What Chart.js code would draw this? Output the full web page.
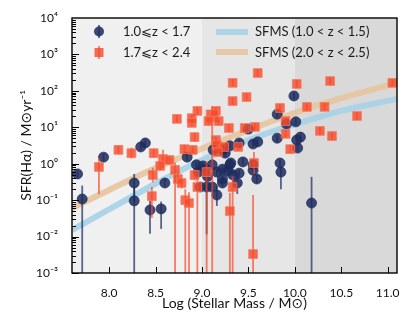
<!DOCTYPE html>
<html>
<head>
<meta charset="utf-8">
<script src="https://cdn.jsdelivr.net/npm/chart.js@4.4.1/dist/chart.umd.min.js"></script>
<style>
html,body{margin:0;padding:0;background:#ffffff;}
#wrap{width:415px;height:332px;position:relative;}
</style>
</head>
<body>
<div id="wrap"><canvas id="c" width="415" height="332"></canvas></div>
<script>
// ---------------- DATA ----------------
// x tick values / labels
const xTickValues = [8.0, 8.5, 9.0, 9.5, 10.0, 10.5, 11.0];
const xTickLabels = ['8.0', '8.5', '9.0', '9.5', '10.0', '10.5', '11.0'];
// y tick values / labels (log axis)
const yTickValues = [1e-3, 1e-2, 1e-1, 1e0, 1e1, 1e2, 1e3, 1e4];
const yTickLabels = ['10⁻³', '10⁻²', '10⁻¹', '10⁰', '10¹', '10²', '10³', '10⁴'];

// Series 1: 1.0 <= z < 1.7  (log stellar mass, log SFR, error down/up in dex)
const blueMass = [7.66,7.71,7.94,8.34,8.39,8.27,8.27,8.44,8.56,8.60,8.84,8.94,8.96,9.01,9.04,9.11,9.16,9.22,9.30,9.22,9.33,9.11,9.05,9.16,8.98,9.23,9.12,9.30,9.40,9.50,9.55,9.60,9.31,9.44,9.55,9.84,9.85,9.40,9.55,9.59,9.38,9.22,10.18,9.99,9.81,10.01,9.91,10.06,10.02,9.81,10.03,9.06,9.28,9.25];
const blueLogSFR = [-0.28,-0.97,0.18,0.46,0.57,-0.53,-1.02,-1.27,-1.24,-0.53,0.18,-0.03,-0.23,-0.06,-0.15,-0.03,-0.23,-0.15,-0.03,-0.42,-0.30,-0.64,-0.64,-0.86,-0.64,0.38,0.38,0.49,0.57,0.95,0.54,0.60,0.02,0.05,-0.03,0.02,-0.23,-0.26,-0.18,-0.42,-0.53,-0.53,-1.08,1.86,1.36,1.15,1.09,0.73,0.65,0.70,0.43,-0.35,-0.20,0.29];
const blueErrDn = [0.12,3.0,0.1,0.1,0.1,0.5,3.0,0.65,0.55,0.12,0.1,0.1,0.1,0.1,0.1,0.1,0.1,0.1,0.1,0.1,0.1,0.12,1.3,0.3,0.12,0.1,0.1,0.1,0.1,0.1,0.1,0.1,0.1,0.1,0.1,0.1,0.47,0.1,0.1,0.12,0.3,0.12,3.0,0.1,0.1,0.1,0.1,0.1,0.1,0.1,0.1,0.12,0.1,0.1];
const blueErrUp = [0.12,0.37,0.1,0.1,0.1,0.25,0.4,0.25,0.2,0.12,0.1,0.1,0.1,0.1,0.1,0.1,0.1,0.1,0.1,0.1,0.1,0.12,0.45,0.25,0.12,0.1,0.1,0.1,0.1,0.1,0.1,0.1,0.1,0.1,0.1,0.1,0.15,0.1,0.1,0.12,0.2,0.12,0.72,0.1,0.1,0.1,0.1,0.1,0.1,0.1,0.1,0.12,0.1,0.1];

// Series 2: 1.7 <= z < 2.4
const redMass = [9.60,9.33,10.02,10.38,11.05,9.48,9.33,9.15,8.95,9.84,10.13,10.32,10.67,9.11,9.07,9.18,9.29,9.46,9.57,9.90,9.90,10.27,10.40,9.95,9.15,9.16,9.24,9.39,9.17,8.73,8.89,8.89,8.92,8.81,8.90,8.10,8.24,8.48,8.58,8.65,8.55,7.89,8.47,8.46,8.71,8.74,8.78,8.82,8.86,8.92,8.95,9.05,9.30,9.33,9.55,9.56];
const redLogSFR = [2.49,2.22,2.19,2.27,2.22,1.83,1.72,1.45,1.45,1.53,1.56,1.56,1.31,1.31,1.17,1.17,0.98,0.98,1.01,1.17,0.82,0.90,0.76,0.40,0.65,0.51,0.46,0.46,0.32,1.23,1.25,1.12,0.73,0.40,0.38,0.38,0.29,0.29,0.13,0.10,-0.06,-0.09,-0.31,-0.89,-0.17,-0.42,-0.53,-1.00,-1.08,-0.31,-0.64,-0.23,-1.30,-0.64,-2.48,0.02];
const redErrDn = [0.1,0.1,0.1,0.1,0.1,0.1,0.1,0.1,0.1,0.1,0.1,0.1,0.1,4.5,0.1,0.1,0.1,0.1,0.1,0.1,0.1,0.12,0.1,0.12,0.1,0.1,0.1,0.1,0.1,0.1,0.1,0.1,0.12,0.12,0.1,0.12,0.15,0.12,0.25,0.12,0.12,0.75,0.2,0.6,3.0,0.15,0.15,3.0,3.0,0.15,3.0,3.0,3.0,3.0,1.0,0.3];
const redErrUp = [0.1,0.1,0.1,0.1,0.1,0.1,0.1,0.1,0.1,0.1,0.1,0.1,0.1,0.27,0.1,0.1,0.1,0.1,0.1,0.1,0.1,0.12,0.1,0.12,0.1,0.1,0.1,0.1,0.1,0.1,0.1,0.1,0.12,0.12,0.1,0.12,0.15,0.12,0.25,0.12,0.12,0.25,0.2,0.25,0.2,0.15,0.15,0.3,0.3,0.15,0.3,0.3,0.5,0.3,1.62,0.3];
const bigRedIndex = 13;

// Star-forming main sequence curves (read along the bands)
const sfmsMass = [7.6, 8.0, 8.5, 9.0, 9.5, 10.0, 10.5, 11.1];
const sfmsLowZLog = [-1.82, -1.25, -0.55, 0.10, 0.65, 1.08, 1.45, 1.78];
const sfmsHighZLog = [-1.22, -0.72, -0.12, 0.42, 0.92, 1.40, 1.80, 2.22];

// shaded mass zones
const zoneEdges = [9.0, 10.0];

// ---------------- STYLE ----------------
const FONT = 'Lato, "DejaVu Sans", sans-serif';
const BLUE = 'rgba(29,44,94,0.86)';
const BLUE_ERR = 'rgba(29,44,94,0.72)';
const RED = 'rgba(246,72,40,0.80)';
const RED_ERR = 'rgba(246,72,40,0.70)';
const LINE_BLUE = 'rgba(168,209,231,0.92)';
const LINE_TAN = 'rgba(230,198,160,0.92)';
const ZONE_COLORS = ['#f0f0f0', '#e6e6e6', '#d9d9d9'];

const pow = v => Math.pow(10, v);
const bluePts = blueMass.map((m, i) => ({x: m, y: pow(blueLogSFR[i])}));
const redPts = redMass.map((m, i) => ({x: m, y: pow(redLogSFR[i])}));
const lowPts = sfmsMass.map((m, i) => ({x: m, y: pow(sfmsLowZLog[i])}));
const highPts = sfmsMass.map((m, i) => ({x: m, y: pow(sfmsHighZLog[i])}));

const errInfo = {
  0: {mass: redMass, log: redLogSFR, dn: redErrDn, up: redErrUp, color: RED_ERR},
  1: {mass: blueMass, log: blueLogSFR, dn: blueErrDn, up: blueErrUp, color: BLUE_ERR}
};

const plugin = {
  id: 'custom',
  beforeDraw(chart) {
    const {ctx, chartArea: a, scales: {x}} = chart;
    const edges = [x.min, ...zoneEdges, x.max];
    ctx.save();
    for (let i = 0; i < edges.length - 1; i++) {
      const x0 = x.getPixelForValue(edges[i]);
      const x1 = x.getPixelForValue(edges[i + 1]);
      ctx.fillStyle = ZONE_COLORS[i];
      ctx.fillRect(x0, a.top, x1 - x0, a.bottom - a.top);
    }
    ctx.restore();
  },
  beforeDatasetDraw(chart, args) {
    const info = errInfo[args.index];
    if (!info) return;
    const {ctx, chartArea: a, scales: {x, y}} = chart;
    ctx.save();
    ctx.beginPath();
    ctx.rect(a.left, a.top, a.right - a.left, a.bottom - a.top);
    ctx.clip();
    ctx.strokeStyle = info.color;
    ctx.lineWidth = 1.8;
    ctx.lineCap = 'butt';
    for (let i = 0; i < info.mass.length; i++) {
      const px = x.getPixelForValue(info.mass[i]);
      const yLo = y.getPixelForValue(pow(info.log[i] - info.dn[i]));
      const yHi = y.getPixelForValue(pow(info.log[i] + info.up[i]));
      ctx.beginPath();
      ctx.moveTo(px, yLo);
      ctx.lineTo(px, yHi);
      ctx.stroke();
    }
    ctx.restore();
  },
  afterDatasetsDraw(chart) {
    const {ctx, chartArea: a, scales: {x, y}} = chart;
    ctx.save();
    // inward ticks
    ctx.strokeStyle = '#000';
    ctx.lineWidth = 1;
    ctx.beginPath();
    xTickValues.forEach(v => {
      const px = Math.round(x.getPixelForValue(v)) + 0.5;
      ctx.moveTo(px, a.bottom);
      ctx.lineTo(px, a.bottom - 6);
    });
    for (let d = -3; d < 4; d++) {
      for (let k = 1; k < 10; k++) {
        const v = k * Math.pow(10, d);
        const py = Math.round(y.getPixelForValue(v)) + 0.5;
        ctx.moveTo(a.left, py);
        ctx.lineTo(a.left + (k === 1 ? 7 : 4), py);
      }
    }
    ctx.stroke();
    // frame
    ctx.lineWidth = 1.4;
    ctx.strokeStyle = '#000';
    ctx.strokeRect(a.left, a.top, a.right - a.left, a.bottom - a.top);

    // legend left
    ctx.font = '13px ' + FONT;
    ctx.textBaseline = 'middle';
    ctx.textAlign = 'left';
    // blue marker
    ctx.strokeStyle = BLUE_ERR; ctx.lineWidth = 1.8;
    ctx.beginPath(); ctx.moveTo(99, 25); ctx.lineTo(99, 38); ctx.stroke();
    ctx.fillStyle = BLUE;
    ctx.beginPath(); ctx.arc(99, 31.5, 5, 0, Math.PI * 2); ctx.fill();
    // red marker
    ctx.strokeStyle = RED_ERR;
    ctx.beginPath(); ctx.moveTo(99, 46); ctx.lineTo(99, 59); ctx.stroke();
    ctx.fillStyle = RED;
    ctx.fillRect(94.5, 48, 9, 9);
    ctx.fillStyle = '#1a1a1a';
    ctx.fillText('1.0⩽z < 1.7', 123, 32);
    ctx.fillText('1.7⩽z < 2.4', 123, 53);
    // legend right
    ctx.lineWidth = 6;
    ctx.strokeStyle = LINE_BLUE;
    ctx.beginPath(); ctx.moveTo(216, 32); ctx.lineTo(248, 32); ctx.stroke();
    ctx.strokeStyle = LINE_TAN;
    ctx.beginPath(); ctx.moveTo(216, 52); ctx.lineTo(248, 52); ctx.stroke();
    ctx.fillText('SFMS (1.0 < z < 1.5)', 255, 32);
    ctx.fillText('SFMS (2.0 < z < 2.5)', 255, 53);
    ctx.restore();
  }
};

new Chart(document.getElementById('c'), {
  type: 'scatter',
  data: {
    datasets: [
      {
        label: '1.7⩽z<2.4',
        data: redPts,
        pointStyle: 'rect',
        pointRadius: c => c.dataIndex === bigRedIndex ? 8.5 : 6.2,
        backgroundColor: RED,
        borderColor: 'rgba(246,120,95,0.75)',
        borderWidth: 1,
        order: 0
      },
      {
        label: '1.0⩽z<1.7',
        data: bluePts,
        pointStyle: 'circle',
        pointRadius: 5,
        backgroundColor: BLUE,
        borderColor: 'rgba(29,44,94,0.9)',
        borderWidth: 0.8,
        order: 1
      },
      {
        type: 'line',
        label: 'SFMS (1.0 < z < 1.5)',
        data: lowPts,
        borderColor: LINE_BLUE,
        borderWidth: 6,
        pointRadius: 0,
        cubicInterpolationMode: 'monotone',
        fill: false,
        order: 2
      },
      {
        type: 'line',
        label: 'SFMS (2.0 < z < 2.5)',
        data: highPts,
        borderColor: LINE_TAN,
        borderWidth: 6,
        pointRadius: 0,
        cubicInterpolationMode: 'monotone',
        fill: false,
        order: 3
      }
    ]
  },
  options: {
    responsive: false,
    animation: false,
    devicePixelRatio: 1,
    layout: {padding: {left: 0, right: 18, top: 18, bottom: 0}},
    plugins: {legend: {display: false}, tooltip: {enabled: false}},
    scales: {
      x: {
        type: 'linear',
        min: 7.6,
        max: 11.1,
        grid: {display: false},
        border: {display: false},
        afterBuildTicks: s => { s.ticks = xTickValues.map(v => ({value: v})); },
        afterFit: s => { s.height = 59; },
        ticks: {
          autoSkip: false, maxRotation: 0, padding: 5,
          color: '#111',
          font: {family: FONT, size: 12},
          callback: (v, i) => xTickLabels[i]
        },
        title: {
          display: true,
          text: 'Log (Stellar Mass / M⊙)',
          color: '#111',
          font: {family: FONT, size: 14},
          padding: {top: 0, bottom: 20}
        }
      },
      y: {
        type: 'logarithmic',
        min: 1e-3,
        max: 1e4,
        grid: {display: false},
        border: {display: false},
        afterBuildTicks: s => { s.ticks = yTickValues.map(v => ({value: v, major: true})); },
        afterFit: s => { s.width = 72; },
        ticks: {
          autoSkip: false, padding: 6,
          color: '#111',
          font: {family: FONT, size: 12},
          callback: (v, i) => yTickLabels[i]
        },
        title: {
          display: true,
          text: 'SFR(Hα) / M⊙yr⁻¹',
          color: '#111',
          font: {family: FONT, size: 14},
          padding: {top: 18, bottom: 0}
        }
      }
    }
  },
  plugins: [plugin]
});
</script>
</body>
</html>
